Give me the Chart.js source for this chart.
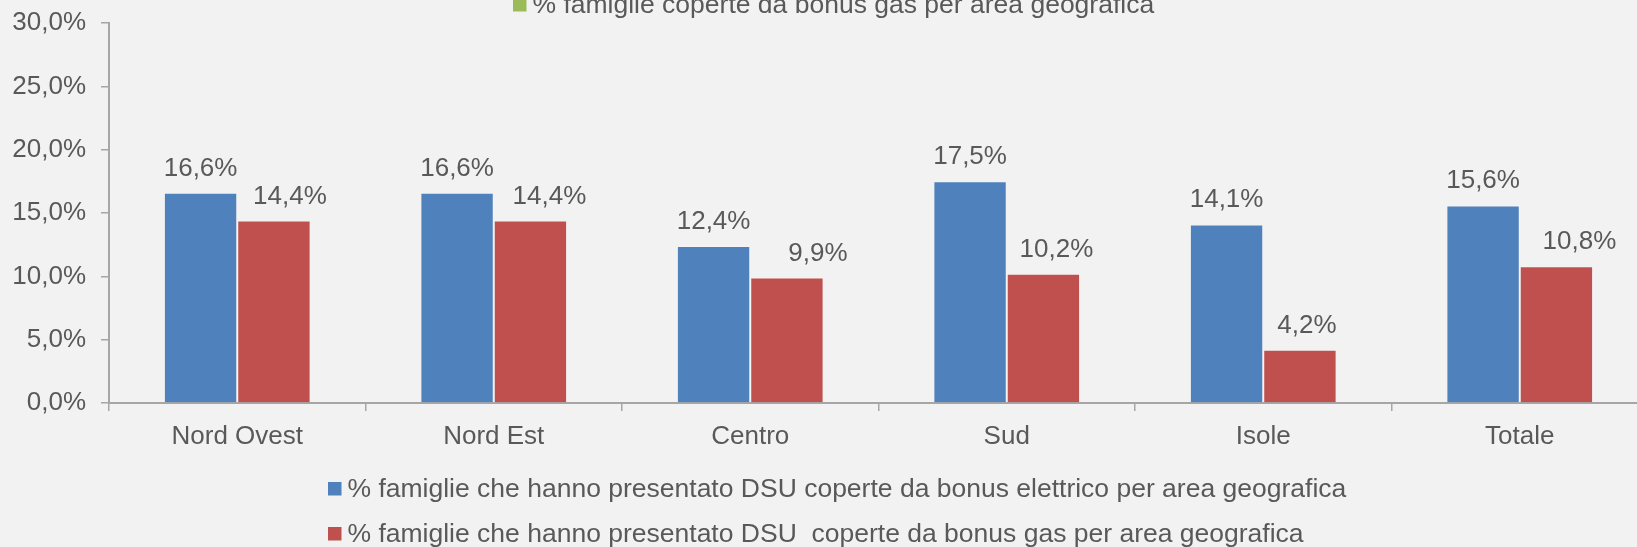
<!DOCTYPE html>
<html>
<head>
<meta charset="utf-8">
<script src="https://cdn.jsdelivr.net/npm/chart.js@4/dist/chart.umd.min.js"></script>
<style>
  html, body { margin: 0; padding: 0; background: #f2f2f2; overflow: hidden; }
  #wrap { width: 1660px; height: 547px; }
</style>
</head>
<body>
<div id="wrap"><canvas id="bonusChart" width="1660" height="547"></canvas></div>
<script>
const categories = ["Nord Ovest", "Nord Est", "Centro", "Sud", "Isole", "Totale"];
const elettrico = [16.6, 16.6, 12.4, 17.5, 14.1, 15.6];
const gas = [14.4, 14.4, 9.9, 10.2, 4.2, 10.8];
const yTicks = [0, 5, 10, 15, 20, 25, 30];
const seriesLabels = [
    "% famiglie che hanno presentato DSU coperte da bonus elettrico per area geografica",
    "% famiglie che hanno presentato DSU  coperte da bonus gas per area geografica"
];
const topLegendLabel = "% famiglie coperte da bonus gas per area geografica";

const textColor = '#595959';
const fontFamily = "'Liberation Sans', Arial, sans-serif";

function pct(v) {
    return v.toFixed(1).replace('.', ',') + '%';
}

// etichette sopra le barre (quelle rosse sono spostate a destra come nell'originale)
const valueLabels = {
    id: 'valueLabels',
    afterDatasetsDraw(chart, args, opts) {
        const ctx = chart.ctx;
        ctx.save();
        ctx.font = '26px ' + fontFamily;
        ctx.fillStyle = textColor;
        ctx.textAlign = 'center';
        ctx.textBaseline = 'alphabetic';
        chart.data.datasets.forEach(function (ds, di) {
            const meta = chart.getDatasetMeta(di);
            meta.data.forEach(function (bar, i) {
                const shift = (opts.shift[di] || [])[i] || 0;
                ctx.fillText(pct(ds.data[i]), bar.x + shift, bar.y - 17);
            });
        });
        ctx.restore();
    }
};

const boxLegend = {
    id: 'boxLegend',
    afterDraw(chart, args, opts) {
        const ctx = chart.ctx;
        ctx.save();
        ctx.font = '26.5px ' + fontFamily;
        ctx.textBaseline = 'alphabetic';
        ctx.textAlign = 'left';
        opts.items.forEach(function (it) {
            ctx.fillStyle = it.color;
            ctx.fillRect(it.x, it.y - 14.5, 13.5, 13.5);
            ctx.fillStyle = textColor;
            ctx.fillText(it.text, it.x + 19.5, it.y);
        });
        ctx.restore();
    }
};

new Chart(document.getElementById('bonusChart').getContext('2d'), {
    type: 'bar',
    data: {
        labels: categories,
        datasets: [{
            label: seriesLabels[0],
            data: elettrico,
            backgroundColor: '#4f81bd',
            borderColor: 'rgba(255,255,255,0.2)',
            borderWidth: 1
        }, {
            label: seriesLabels[1],
            data: gas,
            backgroundColor: '#c0504d',
            borderColor: 'rgba(255,255,255,0.2)',
            borderWidth: 1
        }]
    },
    options: {
        responsive: false,
        animation: false,
        layout: { padding: { top: 23, right: 12, left: 0, bottom: 0 } },
        datasets: {
            bar: { barPercentage: 1, categoryPercentage: 0.572 }
        },
        scales: {
            x: {
                grid: { drawOnChartArea: false, drawTicks: true, tickLength: 8, color: '#a6a6a6', lineWidth: 1.5 },
                border: { display: true, color: '#a6a6a6', width: 2 },
                ticks: { color: textColor, font: { family: fontFamily, size: 26 }, padding: 10 },
                afterFit(scale) { scale.height = 144; }
            },
            y: {
                min: 0,
                max: 30,
                afterBuildTicks(scale) { scale.ticks = yTicks.map(v => ({ value: v })); },
                grid: { drawOnChartArea: false, drawTicks: true, tickLength: 8, color: '#a6a6a6', lineWidth: 1.5 },
                border: { display: true, color: '#a6a6a6', width: 2 },
                ticks: {
                    color: textColor,
                    font: { family: fontFamily, size: 26, lineHeight: 0.5 },
                    padding: 15,
                    callback: function (v) { return pct(v); }
                },
                afterFit(scale) { scale.width = 109; }
            }
        },
        plugins: {
            legend: { display: false },
            tooltip: { enabled: false },
            valueLabels: { shift: [[], [16, 19, 31, 13, 7, 23]] },
            boxLegend: {
                items: [
                    { text: topLegendLabel, color: '#9bbb59', x: 513, y: 12.5 },
                    { text: seriesLabels[0], color: '#4f81bd', x: 328, y: 496.5 },
                    { text: seriesLabels[1], color: '#c0504d', x: 328, y: 541.5 }
                ]
            }
        }
    },
    plugins: [valueLabels, boxLegend]
});
</script>
</body>
</html>
